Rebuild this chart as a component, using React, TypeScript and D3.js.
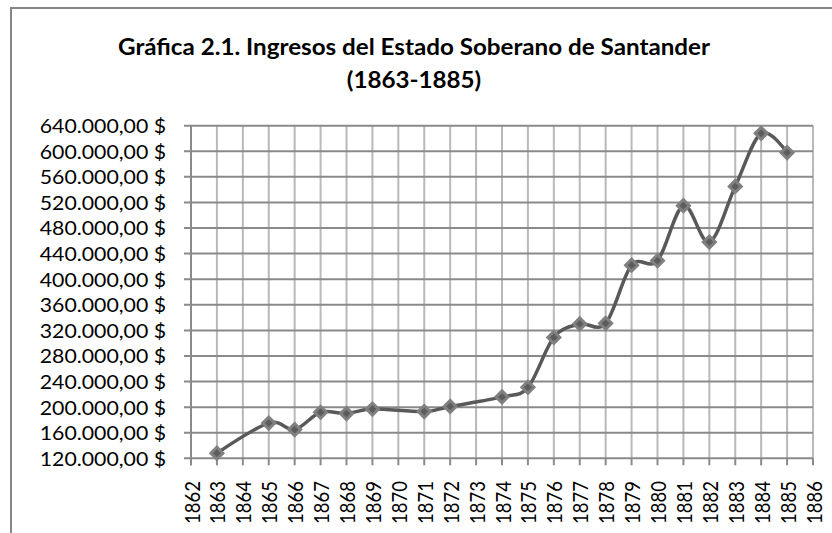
import React from "react";
import * as d3 from "d3";

const years = [1863, 1865, 1866, 1867, 1868, 1869, 1871, 1872, 1874, 1875, 1876, 1877, 1878, 1879, 1880, 1881, 1882, 1883, 1884, 1885];
const ingresos = [128000, 175000, 165000, 192000, 190000, 197000, 193000, 201000, 216000, 231000, 309000, 330000, 331000, 422000, 429000, 515000, 458000, 545000, 628000, 598000];
const yTicks = [120000, 160000, 200000, 240000, 280000, 320000, 360000, 400000, 440000, 480000, 520000, 560000, 600000, 640000];
const xTicks = d3.range(1862, 1887);
const titleLines = ["Gráfica 2.1. Ingresos del Estado Soberano de Santander", "(1863-1885)"];

const W = 832, H = 533;
const SX = 1.15;
const FONT = "Lato, 'Open Sans', sans-serif";

function fmt(v: number) {
  const s = d3.format(",.2f")(v);
  return s.replace(/,/g, "#").replace(".", ",").replace(/#/g, ".") + " $";
}

export default function App() {
  const x = d3.scaleLinear().domain([1862, 1886]).range([191, 813]);
  const y = d3.scaleLinear().domain([120000, 640000]).range([458.3, 125.7]);
  const data = years.map((yr, i) => [yr, ingresos[i]] as [number, number]);
  const line = d3.line<[number, number]>().x(d => x(d[0])).y(d => y(d[1])).curve(d3.curveCatmullRom.alpha(0));
  const diamond = d3.symbol().type(d3.symbolSquare).size(72)();

  return (
    <svg width={W} height={H} style={{ position: "absolute", left: 0, top: 0, background: "#fff" }} fontFamily={FONT}>
      <rect x={0} y={0} width={W} height={H} fill="#fff" />
      <rect x={11} y={8} width={W + 20} height={H + 20} fill="#fff" stroke="#868686" strokeWidth={2} />
      {titleLines.map((t, i) => (
        <text key={i} transform={`translate(414,${55 + i * 33}) scale(1.1,1)`} textAnchor="middle" fontWeight="bold" fontSize={22} fill="#000">{t}</text>
      ))}
      {xTicks.slice(1).map(t => (
        <line key={"v" + t} x1={x(t)} x2={x(t)} y1={y(640000)} y2={y(120000)} stroke="#b9b9b9" strokeWidth={2} />
      ))}
      {yTicks.map(t => (
        <line key={"h" + t} x1={x(1862) - 7} x2={x(1886)} y1={y(t)} y2={y(t)} stroke="#8a8a8a" strokeWidth={2} />
      ))}
      <line x1={x(1862)} x2={x(1862)} y1={y(640000)} y2={y(120000) + 7} stroke="#8a8a8a" strokeWidth={2} />
      {xTicks.map(t => (
        <line key={"xt" + t} x1={x(t)} x2={x(t)} y1={y(120000)} y2={y(120000) + 7} stroke="#8a8a8a" strokeWidth={2} />
      ))}
      {yTicks.map(t => (
        <text key={"yl" + t} transform={`translate(166,${y(t)}) scale(${SX},1)`} textAnchor="end" dominantBaseline="central" fontSize={18.5} fill="#000">{fmt(t)}</text>
      ))}
      {xTicks.map(t => (
        <text key={"xl" + t} transform={`translate(${x(t)},481) scale(${SX},1) rotate(-90)`} textAnchor="end" dominantBaseline="central" fontSize={18.5} fill="#000">{t}</text>
      ))}
      <path d={line(data) || ""} fill="none" stroke="#595959" strokeWidth={3.5} />
      {data.map(d => (
        <path key={"m" + d[0]} d={diamond || ""} transform={`translate(${x(d[0])},${y(d[1])}) rotate(45)`} fill="#5c5c5c" stroke="#808080" strokeWidth={3} />
      ))}
    </svg>
  );
}
